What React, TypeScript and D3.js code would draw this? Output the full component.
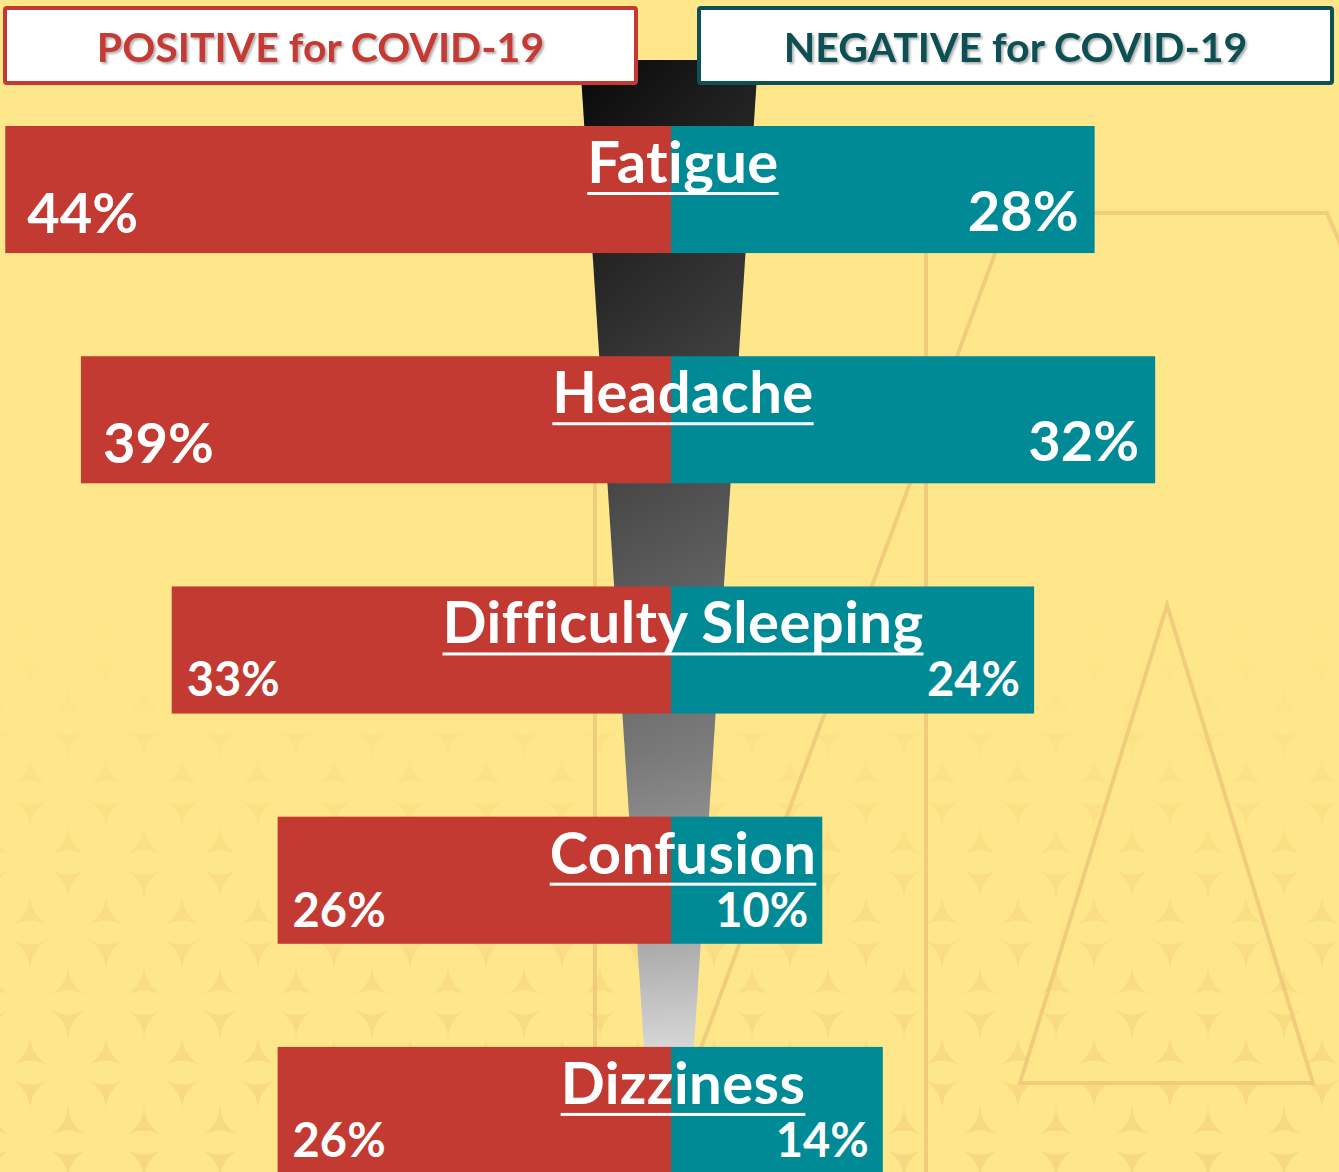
import React, { useRef, useEffect } from 'react';
import * as d3 from 'd3';

const categories = ['Fatigue', 'Headache', 'Difficulty Sleeping', 'Confusion', 'Dizziness'];
const positivePct = [44, 39, 33, 26, 26];
const negativePct = [28, 32, 24, 10, 14];
const headerLabels = ['POSITIVE for COVID-19', 'NEGATIVE for COVID-19'];

const width = 1339;
const height = 1172;
const centerX = 671;
const red = '#C33A33';
const teal = '#008A96';
const bg = '#FEE78A';
const font = 'Lato, "Open Sans", sans-serif';

const App = () => {
  const ref = useRef(null);

  useEffect(() => {
    document.body.style.margin = '0';
    const root = d3.select(ref.current);
    root.selectAll('*').remove();

    const svg = root
      .append('svg')
      .attr('width', width)
      .attr('height', height)
      .style('display', 'block')
      .style('font-variant-ligatures', 'none');

    const defs = svg.append('defs');

    // funnel gradient
    const fg = defs
      .append('linearGradient')
      .attr('id', 'funnel-grad')
      .attr('gradientUnits', 'userSpaceOnUse')
      .attr('x1', 0)
      .attr('y1', 60)
      .attr('x2', 0)
      .attr('y2', 1047);
    [
      [0, '#080808'],
      [0.25, '#282828'],
      [0.45, '#474747'],
      [0.7, '#737373'],
      [0.9, '#a9a9a9'],
      [1, '#d4d4d4'],
    ].forEach(([o, c]) => fg.append('stop').attr('offset', o).attr('stop-color', c));

    const fh = defs.append('linearGradient').attr('id', 'funnel-sheen');
    fh.append('stop').attr('offset', 0).attr('stop-color', '#fff').attr('stop-opacity', 0);
    fh.append('stop').attr('offset', 1).attr('stop-color', '#fff').attr('stop-opacity', 0.09);

    // background star pattern
    const pat = defs
      .append('pattern')
      .attr('id', 'stars')
      .attr('patternUnits', 'userSpaceOnUse')
      .attr('width', 76)
      .attr('height', 140)
      .attr('x', 30)
      .attr('y', 20);
    const star = (cx: number, cy: number, r: number, up: boolean) => {
      const pts = up
        ? [[cx, cy - r], [cx + r * 0.87, cy + r * 0.5], [cx - r * 0.87, cy + r * 0.5]]
        : [[cx - r * 0.87, cy - r * 0.5], [cx + r * 0.87, cy - r * 0.5], [cx, cy + r]];
      let d = `M${pts[0][0]},${pts[0][1]}`;
      for (let i = 1; i <= 3; i++) {
        const p = pts[i % 3];
        d += ` Q${cx},${cy} ${p[0]},${p[1]}`;
      }
      return d + 'Z';
    };
    [
      [38, 20, 22, false],
      [0, 55, 22, true],
      [76, 55, 22, true],
      [0, 90, 22, false],
      [76, 90, 22, false],
      [38, 125, 22, true],
    ].forEach(([x, y, r, up]) =>
      pat
        .append('path')
        .attr('d', star(x as number, y as number, r as number, up as boolean))
        .attr('fill', '#EFC36F')
        .attr('opacity', 0.4)
    );
    const mg = defs
      .append('linearGradient')
      .attr('id', 'fade')
      .attr('x1', 0)
      .attr('y1', 0)
      .attr('x2', 0)
      .attr('y2', 1);
    mg.append('stop').attr('offset', 0.52).attr('stop-color', '#fff').attr('stop-opacity', 0);
    mg.append('stop').attr('offset', 0.75).attr('stop-color', '#fff').attr('stop-opacity', 0.6);
    mg.append('stop').attr('offset', 1).attr('stop-color', '#fff').attr('stop-opacity', 1);
    defs
      .append('mask')
      .attr('id', 'fade-mask')
      .append('rect')
      .attr('width', width)
      .attr('height', height)
      .attr('fill', 'url(#fade)');

    const shadow = defs.append('filter').attr('id', 'txt-shadow');
    shadow
      .append('feDropShadow')
      .attr('dx', 2)
      .attr('dy', 2)
      .attr('stdDeviation', 1.2)
      .attr('flood-color', '#000')
      .attr('flood-opacity', 0.3);

    // background
    svg.append('rect').attr('width', width).attr('height', height).attr('fill', bg);
    svg
      .append('rect')
      .attr('width', width)
      .attr('height', height)
      .attr('fill', 'url(#stars)')
      .attr('mask', 'url(#fade-mask)');

    const deco = svg
      .append('g')
      .attr('fill', 'none')
      .attr('stroke', '#EEC277')
      .attr('stroke-width', 4)
      .attr('opacity', 0.7);
    deco.append('path').attr('d', 'M926,1172 L926,213 L1327,213 L1345,255');
    deco.append('path').attr('d', 'M1010,213 L655,1172');
    deco.append('path').attr('d', 'M595,470 L595,1172');
    deco.append('path').attr('d', 'M1167,605 L1313,1083 L1020,1083 Z');

    const x = d3.scaleLinear().domain([0, 100]).range([0, 1513]);
    const y = d3
      .scaleBand()
      .domain(categories)
      .range([126, 1174])
      .paddingInner(0.448)
      .paddingOuter(0);
    const bh = y.bandwidth();

    // funnel
    const fcx = centerX - 2;
    const fTop = 60;
    const fBot = y(categories[categories.length - 1]) as number;
    const funnelPts = [
      [fcx - 89, fTop],
      [fcx + 89, fTop],
      [fcx + 25, fBot],
      [fcx - 25, fBot],
    ];
    const funnelPath = d3.line()(funnelPts as [number, number][]) + 'Z';
    svg.append('path').attr('d', funnelPath).attr('fill', 'url(#funnel-grad)');
    svg.append('path').attr('d', funnelPath).attr('fill', 'url(#funnel-sheen)');

    // headers
    const headers = [
      { x: 5, w: 631, stroke: '#C43A33', color: '#C43B34' },
      { x: 699, w: 633, stroke: '#0E5053', color: '#0B4F53' },
    ];
    headers.forEach((h, i) => {
      svg
        .append('rect')
        .attr('x', h.x)
        .attr('y', 8)
        .attr('width', h.w)
        .attr('height', 75)
        .attr('rx', 2)
        .attr('fill', '#fff')
        .attr('stroke', h.stroke)
        .attr('stroke-width', 4);
      svg
        .append('text')
        .attr('x', h.x + h.w / 2)
        .attr('y', 62)
        .attr('text-anchor', 'middle')
        .attr('font-family', font)
        .attr('font-weight', 700)
        .attr('font-size', 41)
        .attr('fill', h.color)
        .attr('filter', 'url(#txt-shadow)')
        .text(headerLabels[i]);
    });

    // bars
    const rows = svg
      .selectAll('g.row')
      .data(categories)
      .enter()
      .append('g')
      .attr('class', 'row')
      .attr('transform', (d) => `translate(0, ${y(d)})`);

    rows
      .append('rect')
      .attr('x', (d, i) => centerX - x(positivePct[i]))
      .attr('width', (d, i) => x(positivePct[i]))
      .attr('height', bh)
      .attr('fill', red);

    rows
      .append('rect')
      .attr('x', centerX)
      .attr('width', (d, i) => x(negativePct[i]))
      .attr('height', bh)
      .attr('fill', teal);

    // category labels with underline, then values
    rows.each(function (d, i) {
      const g = d3.select(this);
      const t = g
        .append('text')
        .attr('x', centerX + 12)
        .attr('y', 57)
        .attr('text-anchor', 'middle')
        .attr('font-family', font)
        .attr('font-weight', 700)
        .attr('font-size', 58)
        .attr('letter-spacing', 0.4)
        .attr('fill', '#fff')
        .text(d);
      const tw = (t.node() as SVGTextElement).getComputedTextLength();
      g.append('rect')
        .attr('x', centerX + 12 - tw / 2)
        .attr('y', 66)
        .attr('width', tw)
        .attr('height', 3)
        .attr('fill', '#fff');

      const big = i < 2;
      g.append('text')
        .attr('x', centerX - x(positivePct[i]) + (big ? 22 : 15))
        .attr('y', big ? 107 : 110)
        .attr('font-family', font)
        .attr('font-weight', 700)
        .attr('font-size', big ? 56 : 47)
        .attr('fill', '#fff')
        .text(`${positivePct[i]}%`);
      g.append('text')
        .attr('x', centerX + x(negativePct[i]) - (big ? 16 : 14))
        .attr('y', big ? 105 : 110)
        .attr('text-anchor', 'end')
        .attr('font-family', font)
        .attr('font-weight', 700)
        .attr('font-size', big ? 56 : 47)
        .attr('fill', '#fff')
        .text(`${negativePct[i]}%`);
    });
  }, []);

  return <div ref={ref}></div>;
};

export default App;
